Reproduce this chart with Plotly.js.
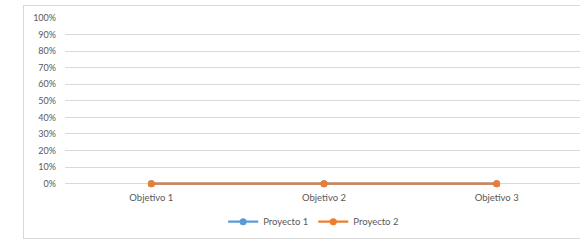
<!DOCTYPE html>
<html>
<head>
<meta charset="utf-8">
<script src="https://cdn.plot.ly/plotly-3.0.1.min.js"></script>
<style>
html,body{margin:0;padding:0;width:580px;height:241px;overflow:hidden;background:#fff;}
#frame{position:absolute;left:23px;top:5px;width:600px;height:232px;border:1px solid #d9d9d9;}
#chart{position:absolute;left:0;top:0;width:600px;height:241px;}
</style>
</head>
<body>
<div id="frame"></div>
<div id="chart"></div>
<script>
const categories = ["Objetivo 1", "Objetivo 2", "Objetivo 3"];
const proyecto1 = [0, 0, 0];
const proyecto2 = [0, 0, 0];
const seriesNames = ["Proyecto 1", "Proyecto 2"];
const yTickVals = [0, 0.1, 0.2, 0.3, 0.4, 0.5, 0.6, 0.7, 0.8, 0.9, 1.0];

const font = {family: "Lato, 'Open Sans', sans-serif", size: 9, color: "#595959"};

const traces = [
  {x: categories, y: proyecto1, name: seriesNames[0], type: "scatter", mode: "lines+markers", cliponaxis: false,
   line: {color: "#5B9BD5", width: 2.25}, marker: {color: "#5B9BD5", size: 7}},
  {x: categories, y: proyecto2, name: seriesNames[1], type: "scatter", mode: "lines+markers", cliponaxis: false,
   line: {color: "#ED7D31", width: 2.25}, marker: {color: "#ED7D31", size: 7}}
];

const layout = {
  width: 600, height: 241,
  margin: {l: 65, r: 17, t: 18, b: 53.7, autoexpand: false},
  paper_bgcolor: "rgba(0,0,0,0)", plot_bgcolor: "rgba(0,0,0,0)",
  font: font,
  showlegend: true,
  legend: {orientation: "h", x: 0.48, xanchor: "center", yref: "container", y: 0.08, yanchor: "middle",
           font: {family: font.family, size: 9.5, color: "#595959"}, itemwidth: 30, tracegroupgap: 0},
  xaxis: {type: "category", range: [-0.5, 2.5], showgrid: false, zeroline: false, showline: false,
          ticks: "", ticklabelstandoff: 3, tickfont: {family: font.family, size: 9.5, color: "#595959"}, fixedrange: true},
  yaxis: {range: [-0.02, 1], tickvals: yTickVals, tickformat: ".0%", showgrid: true, gridcolor: "#d9d9d9",
          gridwidth: 1, zeroline: false, showline: false, ticks: "", ticklabelstandoff: 8,
          tickfont: {family: font.family, size: 9, color: "#595959"}, fixedrange: true}
};

Plotly.newPlot("chart", traces, layout, {displayModeBar: false, staticPlot: true});
</script>
</body>
</html>
